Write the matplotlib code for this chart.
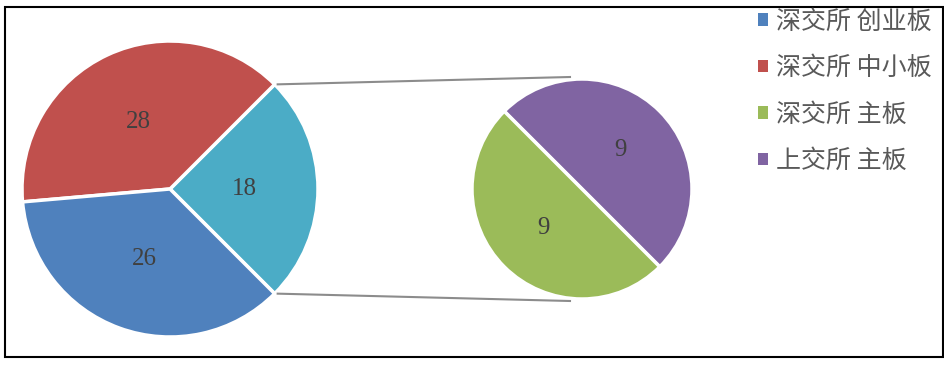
import numpy as np
import matplotlib.pyplot as plt
from matplotlib.patches import Patch, Rectangle

# 主饼图: 其他(=深交所主板+上交所主板), 深交所中小板, 深交所创业板
main_labels = ['其他', '深交所 中小板', '深交所 创业板']
main_vals = [18, 28, 26]
main_colors = ['#4BACC6', '#C0504D', '#4F81BD']

# 子饼图
sub_labels = ['上交所 主板', '深交所 主板']
sub_vals = [9, 9]
sub_colors = ['#8064A2', '#9BBB59']

legend_labels = ['深交所 创业板', '深交所 中小板', '深交所 主板', '上交所 主板']
legend_colors = ['#4F81BD', '#C0504D', '#9BBB59', '#8064A2']

W, H = 945, 367
fig = plt.figure(figsize=(W / 100, H / 100), dpi=100)
ax = fig.add_axes([0, 0, 1, 1])

c1, r1 = (170, H - 189), 148
c2, r2 = (582, H - 189), 110

def fmt(vals):
    tot = sum(vals)
    return lambda p: f'{round(p * tot / 100)}'

wp = dict(edgecolor='white', linewidth=2.5)
tp = dict(family='Liberation Serif', fontsize=18, color='#404040')

ax.pie(main_vals, colors=main_colors, center=c1, radius=r1, startangle=-45,
       autopct=fmt(main_vals), pctdistance=0.5, wedgeprops=wp, textprops=tp,
       frame=True)
ax.pie(sub_vals, colors=sub_colors, center=c2, radius=r2, startangle=-45,
       autopct=fmt(sub_vals), pctdistance=0.5, wedgeprops=wp, textprops=tp,
       frame=True)
ax.set_xlim(0, W)
ax.set_ylim(0, H)
ax.set_aspect('equal')
ax.axis('off')

# 连接线
a = np.deg2rad(45)
ax.plot([c1[0] + r1 * np.cos(a) + 3, c2[0] - 12], [c1[1] + r1 * np.sin(a), c2[1] + r2 + 2],
        color='#8C8C8C', lw=1.5)
ax.plot([c1[0] + r1 * np.cos(a) + 3, c2[0] - 12], [c1[1] - r1 * np.sin(a), c2[1] - r2 - 2],
        color='#8C8C8C', lw=1.5)

# 边框
ax.add_patch(Rectangle((5, H - 357), 938, 350, fill=False, edgecolor='black', lw=1.5))

handles = [Patch(facecolor=c, edgecolor='none') for c in legend_colors]
ax.legend(handles, legend_labels, loc='upper left', bbox_to_anchor=(735, H + 14),
          bbox_transform=ax.transData, frameon=False, handlelength=0.4,
          handleheight=0.4, handletextpad=0.35, labelspacing=0.82,
          prop={'family': ['Noto Sans CJK SC', 'DejaVu Sans'], 'size': 18,
                'weight': 'light'},
          labelcolor='#595959')

fig.savefig('out.png', dpi=100)
